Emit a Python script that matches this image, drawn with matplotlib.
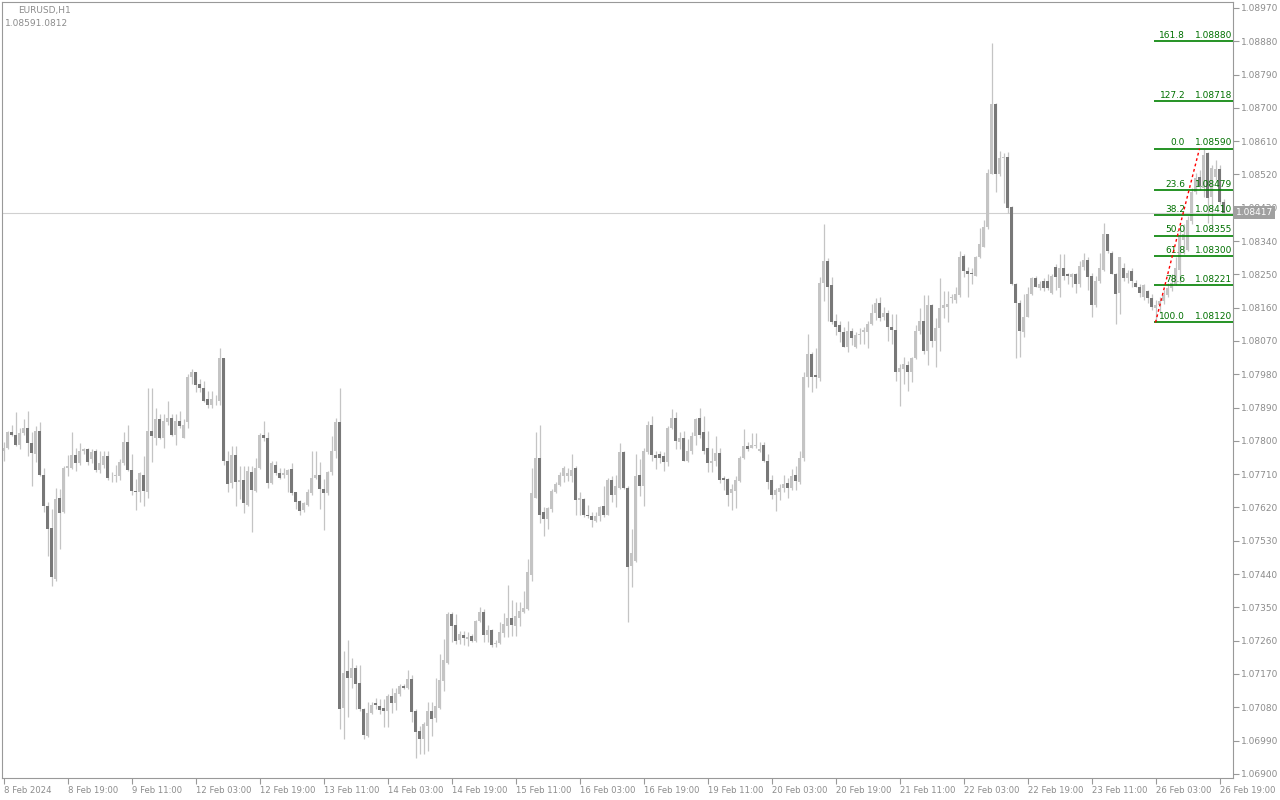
import matplotlib.pyplot as plt
import matplotlib.transforms as mtransforms
import numpy as np

# EURUSD H1 candles, 8 Feb 03:00 .. 26 Feb 2024
opens = [
    1.07774, 1.07780, 1.07823, 1.07817, 1.07790, 1.07820, 1.07836, 1.07793, 1.07764, 1.07828,
    1.07707, 1.07623, 1.07564, 1.07426, 1.07645, 1.07607, 1.07728, 1.07726, 1.07761, 1.07739,
    1.07772, 1.07777, 1.07750, 1.07772, 1.07720, 1.07736, 1.07758, 1.07707, 1.07704, 1.07704,
    1.07739, 1.07796, 1.07720, 1.07664, 1.07661, 1.07709, 1.07661, 1.07826, 1.07809, 1.07858,
    1.07809, 1.07850, 1.07863, 1.07817, 1.07855, 1.07809, 1.07850, 1.07974, 1.07985, 1.07953,
    1.07944, 1.07912, 1.07898, 1.07907, 1.07907, 1.08023, 1.07747, 1.07685, 1.07761, 1.07688,
    1.07693, 1.07628, 1.07715, 1.07664, 1.07726, 1.07817, 1.07807, 1.07685, 1.07736, 1.07712,
    1.07707, 1.07709, 1.07723, 1.07661, 1.07637, 1.07612, 1.07628, 1.07658, 1.07699, 1.07707,
    1.07669, 1.07658, 1.07715, 1.07772, 1.07850, 1.07078, 1.07178, 1.07159, 1.07186, 1.07145,
    1.07075, 1.07002, 1.07064, 1.07091, 1.07083, 1.07078, 1.07070, 1.07110, 1.07091, 1.07116,
    1.07137, 1.07132, 1.07156, 1.07070, 1.07016, 1.06994, 1.07029, 1.07070, 1.07051, 1.07078,
    1.07151, 1.07199, 1.07332, 1.07302, 1.07261, 1.07275, 1.07264, 1.07272, 1.07259, 1.07313,
    1.07337, 1.07275, 1.07288, 1.07250, 1.07253, 1.07280, 1.07299, 1.07321, 1.07299, 1.07321,
    1.07337, 1.07345, 1.07437, 1.07647, 1.07755, 1.07607, 1.07588, 1.07615, 1.07661, 1.07680,
    1.07704, 1.07704, 1.07704, 1.07726, 1.07639, 1.07642, 1.07599, 1.07596, 1.07583, 1.07596,
    1.07623, 1.07601, 1.07693, 1.07655, 1.07674, 1.07769, 1.07674, 1.07461, 1.07475, 1.07707,
    1.07677, 1.07769, 1.07844, 1.07761, 1.07764, 1.07758, 1.07742, 1.07834, 1.07863, 1.07796,
    1.07807, 1.07747, 1.07772, 1.07812, 1.07861, 1.07823, 1.07780, 1.07739, 1.07747, 1.07766,
    1.07699, 1.07696, 1.07658, 1.07664, 1.07691, 1.07753, 1.07785, 1.07780, 1.07785, 1.07772,
    1.07788, 1.07747, 1.07693, 1.07653, 1.07661, 1.07672, 1.07685, 1.07672, 1.07707, 1.07688,
    1.07753, 1.07974, 1.08034, 1.07977, 1.07971, 1.08228, 1.08285, 1.08220, 1.08125, 1.08112,
    1.08093, 1.08055, 1.08098, 1.08055, 1.08085, 1.08093, 1.08093, 1.08115, 1.08147, 1.08174,
    1.08136, 1.08147, 1.08109, 1.08101, 1.07985, 1.07993, 1.08004, 1.07985, 1.08023, 1.08096,
    1.08125, 1.08042, 1.08166, 1.08069, 1.08106, 1.08158, 1.08163, 1.08185, 1.08180, 1.08193,
    1.08301, 1.08260, 1.08255, 1.08247, 1.08296, 1.08325, 1.08379, 1.08522, 1.08711, 1.08520,
    1.08565, 1.08568, 1.08433, 1.08225, 1.08174, 1.08093, 1.08136, 1.08196, 1.08241, 1.08212,
    1.08231, 1.08231, 1.08201, 1.08271, 1.08212, 1.08268, 1.08250, 1.08244, 1.08250, 1.08225,
    1.08271, 1.08290, 1.08247, 1.08166, 1.08231, 1.08263, 1.08358, 1.08309, 1.08252, 1.08201,
    1.08268, 1.08241, 1.08258, 1.08228, 1.08217, 1.08188, 1.08204, 1.08185, 1.08158, 1.08166,
    1.08177, 1.08193, 1.08212, 1.08225, 1.08263, 1.08344, 1.08317, 1.08393, 1.08474, 1.08514,
    1.08484, 1.08579, 1.08460, 1.08514, 1.08536, 1.08447,
]
highs = [
    1.07796, 1.07826, 1.07842, 1.07877, 1.07834, 1.07858, 1.07882, 1.07823, 1.07839, 1.07850,
    1.07726, 1.07634, 1.07615, 1.07672, 1.07669, 1.07731, 1.07761, 1.07823, 1.07780, 1.07793,
    1.07782, 1.07782, 1.07777, 1.07777, 1.07772, 1.07774, 1.07772, 1.07715, 1.07734, 1.07750,
    1.07823, 1.07842, 1.07764, 1.07696, 1.07715, 1.07758, 1.07944, 1.07944, 1.07890, 1.07874,
    1.07874, 1.07907, 1.07874, 1.07874, 1.07880, 1.07858, 1.07980, 1.07993, 1.07985, 1.07966,
    1.07963, 1.07936, 1.07936, 1.07925, 1.08050, 1.08025, 1.07774, 1.07785, 1.07785, 1.07731,
    1.07731, 1.07731, 1.07731, 1.07753, 1.07820, 1.07855, 1.07823, 1.07747, 1.07745, 1.07728,
    1.07728, 1.07723, 1.07739, 1.07661, 1.07639, 1.07634, 1.07669, 1.07772, 1.07772, 1.07742,
    1.07696, 1.07718, 1.07812, 1.07861, 1.07942, 1.07232, 1.07261, 1.07213, 1.07194, 1.07194,
    1.07078, 1.07094, 1.07094, 1.07105, 1.07102, 1.07102, 1.07116, 1.07132, 1.07132, 1.07143,
    1.07143, 1.07180, 1.07167, 1.07075, 1.07029, 1.07040, 1.07094, 1.07094, 1.07159, 1.07224,
    1.07264, 1.07337, 1.07337, 1.07332, 1.07286, 1.07286, 1.07283, 1.07278, 1.07315, 1.07350,
    1.07345, 1.07302, 1.07291, 1.07261, 1.07310, 1.07334, 1.07410, 1.07369, 1.07364, 1.07364,
    1.07394, 1.07480, 1.07726, 1.07823, 1.07844, 1.07620, 1.07620, 1.07669, 1.07688, 1.07715,
    1.07731, 1.07726, 1.07764, 1.07731, 1.07661, 1.07645, 1.07626, 1.07607, 1.07607, 1.07623,
    1.07677, 1.07701, 1.07704, 1.07709, 1.07793, 1.07774, 1.07677, 1.07561, 1.07764, 1.07750,
    1.07782, 1.07853, 1.07866, 1.07772, 1.07772, 1.07769, 1.07839, 1.07885, 1.07877, 1.07823,
    1.07828, 1.07804, 1.07823, 1.07861, 1.07888, 1.07866, 1.07828, 1.07782, 1.07812, 1.07782,
    1.07704, 1.07701, 1.07683, 1.07704, 1.07758, 1.07831, 1.07796, 1.07820, 1.07820, 1.07796,
    1.07796, 1.07764, 1.07707, 1.07674, 1.07683, 1.07707, 1.07699, 1.07723, 1.07731, 1.07772,
    1.07985, 1.08088, 1.08039, 1.08050, 1.08244, 1.08385, 1.08293, 1.08244, 1.08144, 1.08123,
    1.08109, 1.08123, 1.08106, 1.08093, 1.08104, 1.08109, 1.08123, 1.08169, 1.08185, 1.08188,
    1.08161, 1.08155, 1.08142, 1.08142, 1.08007, 1.08028, 1.08015, 1.08028, 1.08112, 1.08158,
    1.08193, 1.08193, 1.08171, 1.08133, 1.08241, 1.08204, 1.08204, 1.08196, 1.08217, 1.08314,
    1.08306, 1.08271, 1.08266, 1.08301, 1.08376, 1.08398, 1.08536, 1.08876, 1.08714, 1.08584,
    1.08579, 1.08582, 1.08436, 1.08228, 1.08182, 1.08196, 1.08217, 1.08244, 1.08247, 1.08231,
    1.08241, 1.08250, 1.08252, 1.08277, 1.08304, 1.08304, 1.08255, 1.08255, 1.08255, 1.08285,
    1.08309, 1.08298, 1.08255, 1.08247, 1.08309, 1.08390, 1.08360, 1.08312, 1.08255, 1.08298,
    1.08282, 1.08263, 1.08266, 1.08236, 1.08223, 1.08225, 1.08209, 1.08196, 1.08182, 1.08190,
    1.08209, 1.08228, 1.08250, 1.08296, 1.08376, 1.08385, 1.08409, 1.08484, 1.08525, 1.08533,
    1.08590, 1.08582, 1.08546, 1.08560, 1.08546, 1.08455,
]
lows = [
    1.07745, 1.07777, 1.07812, 1.07785, 1.07777, 1.07817, 1.07758, 1.07677, 1.07742, 1.07704,
    1.07607, 1.07488, 1.07407, 1.07421, 1.07507, 1.07604, 1.07704, 1.07723, 1.07718, 1.07734,
    1.07764, 1.07736, 1.07739, 1.07715, 1.07712, 1.07728, 1.07693, 1.07688, 1.07688, 1.07693,
    1.07736, 1.07718, 1.07653, 1.07612, 1.07634, 1.07623, 1.07647, 1.07742, 1.07788, 1.07804,
    1.07782, 1.07842, 1.07812, 1.07788, 1.07834, 1.07807, 1.07834, 1.07953, 1.07931, 1.07931,
    1.07904, 1.07890, 1.07888, 1.07898, 1.07898, 1.07734, 1.07661, 1.07672, 1.07623, 1.07642,
    1.07604, 1.07623, 1.07553, 1.07661, 1.07723, 1.07799, 1.07672, 1.07683, 1.07707, 1.07696,
    1.07701, 1.07661, 1.07655, 1.07615, 1.07599, 1.07607, 1.07623, 1.07655, 1.07696, 1.07615,
    1.07558, 1.07655, 1.07709, 1.07755, 1.07021, 1.06994, 1.07053, 1.07131, 1.07075, 1.07070,
    1.06994, 1.07000, 1.07062, 1.07075, 1.07062, 1.07026, 1.07026, 1.07064, 1.07072, 1.07110,
    1.07129, 1.07129, 1.07040, 1.06943, 1.06954, 1.06954, 1.06962, 1.07002, 1.07040, 1.07075,
    1.07124, 1.07197, 1.07256, 1.07250, 1.07250, 1.07248, 1.07245, 1.07256, 1.07256, 1.07310,
    1.07256, 1.07256, 1.07242, 1.07242, 1.07250, 1.07270, 1.07270, 1.07272, 1.07272, 1.07299,
    1.07334, 1.07342, 1.07421, 1.07645, 1.07577, 1.07542, 1.07561, 1.07607, 1.07658, 1.07677,
    1.07688, 1.07691, 1.07688, 1.07601, 1.07601, 1.07593, 1.07591, 1.07566, 1.07580, 1.07583,
    1.07593, 1.07599, 1.07634, 1.07620, 1.07669, 1.07669, 1.07310, 1.07404, 1.07472, 1.07650,
    1.07623, 1.07764, 1.07745, 1.07723, 1.07739, 1.07718, 1.07731, 1.07831, 1.07777, 1.07777,
    1.07745, 1.07742, 1.07764, 1.07790, 1.07809, 1.07764, 1.07715, 1.07715, 1.07731, 1.07685,
    1.07666, 1.07623, 1.07612, 1.07618, 1.07688, 1.07750, 1.07772, 1.07780, 1.07782, 1.07769,
    1.07742, 1.07669, 1.07642, 1.07610, 1.07639, 1.07661, 1.07647, 1.07666, 1.07666, 1.07683,
    1.07745, 1.07947, 1.07931, 1.07944, 1.07961, 1.08177, 1.08123, 1.08117, 1.08085, 1.08066,
    1.08055, 1.08039, 1.08058, 1.08052, 1.08063, 1.08061, 1.08050, 1.08112, 1.08128, 1.08123,
    1.08128, 1.08069, 1.08061, 1.07963, 1.07893, 1.07955, 1.07934, 1.07958, 1.08020, 1.08088,
    1.08036, 1.08004, 1.08055, 1.08001, 1.08044, 1.08133, 1.08120, 1.08174, 1.08174, 1.08190,
    1.08244, 1.08188, 1.08223, 1.08247, 1.08293, 1.08323, 1.08374, 1.08520, 1.08474, 1.08517,
    1.08444, 1.08417, 1.08220, 1.08025, 1.08028, 1.08082, 1.08136, 1.08193, 1.08215, 1.08209,
    1.08204, 1.08209, 1.08198, 1.08209, 1.08190, 1.08236, 1.08223, 1.08217, 1.08201, 1.08217,
    1.08263, 1.08209, 1.08136, 1.08163, 1.08228, 1.08260, 1.08309, 1.08250, 1.08115, 1.08142,
    1.08231, 1.08228, 1.08217, 1.08215, 1.08190, 1.08182, 1.08174, 1.08155, 1.08120, 1.08147,
    1.08169, 1.08188, 1.08204, 1.08220, 1.08228, 1.08304, 1.08312, 1.08387, 1.08468, 1.08479,
    1.08460, 1.08390, 1.08371, 1.08506, 1.08439, 1.08414,
]
closes = [
    1.07780, 1.07823, 1.07817, 1.07790, 1.07820, 1.07834, 1.07793, 1.07766, 1.07826, 1.07709,
    1.07623, 1.07561, 1.07431, 1.07642, 1.07604, 1.07728, 1.07731, 1.07761, 1.07739, 1.07772,
    1.07777, 1.07742, 1.07769, 1.07720, 1.07739, 1.07758, 1.07701, 1.07709, 1.07707, 1.07742,
    1.07796, 1.07720, 1.07664, 1.07661, 1.07712, 1.07664, 1.07828, 1.07812, 1.07858, 1.07809,
    1.07853, 1.07861, 1.07817, 1.07855, 1.07839, 1.07844, 1.07974, 1.07985, 1.07950, 1.07942,
    1.07909, 1.07898, 1.07912, 1.07909, 1.08025, 1.07745, 1.07683, 1.07761, 1.07688, 1.07693,
    1.07631, 1.07718, 1.07666, 1.07728, 1.07817, 1.07807, 1.07685, 1.07739, 1.07712, 1.07701,
    1.07712, 1.07720, 1.07658, 1.07634, 1.07610, 1.07631, 1.07661, 1.07699, 1.07707, 1.07669,
    1.07658, 1.07715, 1.07772, 1.07850, 1.07075, 1.07172, 1.07159, 1.07186, 1.07143, 1.07075,
    1.07005, 1.07064, 1.07086, 1.07086, 1.07072, 1.07070, 1.07110, 1.07091, 1.07118, 1.07137,
    1.07132, 1.07156, 1.07067, 1.07013, 1.06994, 1.07034, 1.07070, 1.07048, 1.07083, 1.07153,
    1.07207, 1.07332, 1.07299, 1.07259, 1.07278, 1.07267, 1.07270, 1.07259, 1.07313, 1.07337,
    1.07275, 1.07288, 1.07248, 1.07253, 1.07283, 1.07305, 1.07321, 1.07302, 1.07326, 1.07340,
    1.07348, 1.07445, 1.07658, 1.07755, 1.07601, 1.07588, 1.07618, 1.07664, 1.07683, 1.07709,
    1.07728, 1.07712, 1.07720, 1.07639, 1.07645, 1.07599, 1.07596, 1.07585, 1.07596, 1.07620,
    1.07599, 1.07693, 1.07653, 1.07677, 1.07769, 1.07674, 1.07458, 1.07496, 1.07704, 1.07677,
    1.07772, 1.07844, 1.07761, 1.07755, 1.07755, 1.07742, 1.07836, 1.07863, 1.07799, 1.07809,
    1.07747, 1.07772, 1.07812, 1.07858, 1.07817, 1.07774, 1.07739, 1.07747, 1.07766, 1.07693,
    1.07693, 1.07655, 1.07669, 1.07693, 1.07755, 1.07785, 1.07777, 1.07788, 1.07790, 1.07777,
    1.07747, 1.07688, 1.07653, 1.07666, 1.07672, 1.07683, 1.07672, 1.07704, 1.07691, 1.07753,
    1.07974, 1.08034, 1.07974, 1.07974, 1.08228, 1.08285, 1.08217, 1.08120, 1.08109, 1.08093,
    1.08055, 1.08098, 1.08077, 1.08085, 1.08090, 1.08101, 1.08117, 1.08147, 1.08174, 1.08133,
    1.08147, 1.08109, 1.08101, 1.07985, 1.07998, 1.08007, 1.07985, 1.08025, 1.08096, 1.08125,
    1.08042, 1.08166, 1.08069, 1.08106, 1.08158, 1.08166, 1.08171, 1.08188, 1.08196, 1.08298,
    1.08260, 1.08252, 1.08252, 1.08298, 1.08331, 1.08379, 1.08525, 1.08711, 1.08522, 1.08565,
    1.08568, 1.08430, 1.08223, 1.08174, 1.08096, 1.08136, 1.08196, 1.08241, 1.08217, 1.08225,
    1.08212, 1.08212, 1.08247, 1.08244, 1.08268, 1.08247, 1.08247, 1.08250, 1.08223, 1.08274,
    1.08290, 1.08244, 1.08166, 1.08233, 1.08266, 1.08358, 1.08312, 1.08252, 1.08198, 1.08296,
    1.08241, 1.08255, 1.08233, 1.08217, 1.08201, 1.08220, 1.08185, 1.08161, 1.08166, 1.08177,
    1.08193, 1.08212, 1.08228, 1.08268, 1.08352, 1.08358, 1.08398, 1.08474, 1.08511, 1.08490,
    1.08574, 1.08457, 1.08538, 1.08536, 1.08447, 1.08417,
]

date_labels = ["8 Feb 2024", "8 Feb 19:00", "9 Feb 11:00", "12 Feb 03:00", "12 Feb 19:00",
               "13 Feb 11:00", "14 Feb 03:00", "14 Feb 19:00", "15 Feb 11:00", "16 Feb 03:00",
               "16 Feb 19:00", "19 Feb 11:00", "20 Feb 03:00", "20 Feb 19:00", "21 Feb 11:00",
               "22 Feb 03:00", "22 Feb 19:00", "23 Feb 11:00", "26 Feb 03:00", "26 Feb 19:00"]
price_ticks = [1.06900, 1.06990, 1.07080, 1.07170, 1.07260, 1.07350, 1.07440, 1.07530,
               1.07620, 1.07710, 1.07800, 1.07890, 1.07980, 1.08070, 1.08160, 1.08250,
               1.08340, 1.08430, 1.08520, 1.08610, 1.08700, 1.08790, 1.08880, 1.08970]

# fibonacci retracement drawn from the 26 Feb low to the high
fib_ratios = ["161.8", "127.2", "0.0", "23.6", "38.2", "50.0", "61.8", "78.6", "100.0"]
fib_prices = [1.08880, 1.08718, 1.08590, 1.08479, 1.08410, 1.08355, 1.08300, 1.08221, 1.08120]
fib_bars = [288, 299]
fib_trend = [1.08120, 1.08590]

last_price = 1.08417

o = np.array(opens)
h = np.array(highs)
l = np.array(lows)
c = np.array(closes)
x = np.arange(len(o))
up = c >= o

light = '#c4c4c4'
dark = '#787878'
grey_txt = '#8c8c8c'

fig = plt.figure(figsize=(12.8, 8), dpi=100)
ax = fig.add_axes([2 / 1280, 22 / 800, 1231 / 1280, 776 / 800])
ax.set_facecolor('white')

# current price line
ax.axhline(last_price, color='#d0d0d0', lw=0.8, zorder=0)

# wicks + bodies
ax.vlines(x, l, h, color=light, lw=0.9, zorder=1)
body = np.maximum(np.abs(c - o), 0.000012)
bottom = np.minimum(o, c)
ax.bar(x[up], body[up], bottom=bottom[up], width=0.75, color=light, lw=0, zorder=2)
ax.bar(x[~up], body[~up], bottom=bottom[~up], width=0.75, color=dark, lw=0, zorder=2)

ax.set_xlim(-0.375, 307.375)
ax.set_ylim(1.068889, 1.089862)

# fibo levels
xr = ax.get_xlim()[1]
for r, p in zip(fib_ratios, fib_prices):
    ax.hlines(p, fib_bars[0] - 0.3, xr, color='#008000', lw=1.2, zorder=3)
    ax.text(295.4, p + 0.00003, r, ha='right', va='bottom', fontsize=6.5, color='#007000', zorder=4)
    ax.text(xr - 0.2, p + 0.00003, '%.5f' % p, ha='right', va='bottom', fontsize=6.5,
            color='#007000', zorder=4)
ax.plot(fib_bars, fib_trend, color='red', lw=1, ls=(0, (2, 2)), zorder=4)

# axes styling
for s in ax.spines.values():
    s.set_color('#999999')
    s.set_linewidth(0.8)

ax.yaxis.tick_right()
ax.set_yticks(price_ticks)
ax.set_yticklabels(['%.5f' % v for v in price_ticks])
ax.tick_params(axis='y', length=4, width=0.8, color='#999999', labelcolor=grey_txt,
               labelsize=6.5, pad=2)

ax.set_xticks(np.arange(0, len(o), 16)[:len(date_labels)])
ax.set_xticklabels(date_labels)
ax.tick_params(axis='x', length=4, width=0.8, color='#999999', labelcolor=grey_txt,
               labelsize=6.1, pad=2)
for t in ax.get_xticklabels():
    t.set_ha('left')

# price label on the axis
trans = mtransforms.blended_transform_factory(ax.transAxes, ax.transData)
ax.text(1.002, last_price, '%.5f' % last_price, transform=trans, ha='left', va='center',
        fontsize=6.5, color='white', clip_on=False, zorder=10,
        bbox=dict(boxstyle='square,pad=0.25', fc='#a0a0a0', ec='none'))

fig.text(18 / 1280, 1 - 10 / 800, 'EURUSD,H1', va='center', ha='left', fontsize=6.5, color=grey_txt)
fig.text(5 / 1280, 1 - 23 / 800, '1.08591.0812', va='center', ha='left', fontsize=6.5, color=grey_txt)

fig.savefig('out.png', dpi=100, facecolor='white')
